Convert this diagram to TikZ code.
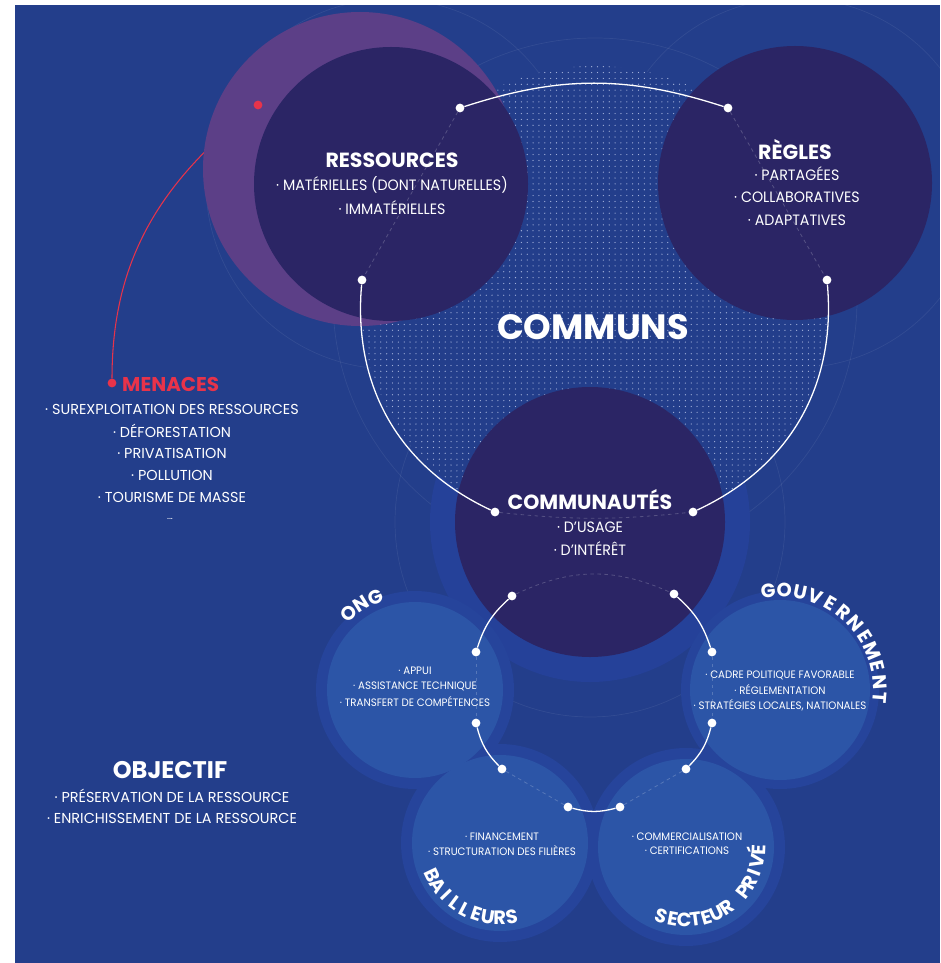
\documentclass[tikz,border=0pt]{standalone}
\usepackage{fontspec}
\setmainfont{Poppins}
\newfontfamily\narrowfont[FakeStretch=0.95]{Poppins}
\usepackage{xcolor}
\usepackage{tikz}
\usetikzlibrary{positioning, calc, patterns.meta}
\definecolor{CommBg}{HTML}{233E8B}
\definecolor{DiscDark}{HTML}{2B2565}
\definecolor{DiscPurple}{HTML}{5C3F87}
\definecolor{DiscLight}{HTML}{2C55A7}
\definecolor{HaloBig}{HTML}{254199}
\definecolor{HaloSmall}{HTML}{26449B}
\definecolor{ThreatRed}{HTML}{E8334A}
\definecolor{DotWhite}{HTML}{A3B1DA}

\tikzset{
  disc title/.style={text=white, font=\bfseries\fontsize{17.5}{20}\selectfont, inner sep=0pt},
  disc item/.style={text=white, font=\narrowfont\fontsize{12.8}{15}\selectfont, inner sep=0pt},
  group item/.style={text=white, font=\narrowfont\fontsize{9.2}{11}\selectfont, inner sep=0pt},
  group letter/.style={text=white, font=\bfseries\fontsize{16.5}{18}\selectfont,
    inner sep=0pt, text height=11.5pt, text depth=0pt},
  side title/.style={font=\bfseries\fontsize{17}{20}\selectfont, inner sep=0pt},
  side item/.style={text=white, font=\fontsize{12.3}{14}\selectfont, inner sep=0pt},
  pin dot/.style={circle, fill=white, inner sep=0pt, minimum size=7.5pt},
  threat dot/.style={circle, fill=ThreatRed, inner sep=0pt, minimum size=7.5pt},
  link/.style={white, line width=1.1pt},
  ghost link/.style={white, opacity=0.2, dashed, line width=0.7pt},
  guide/.style={white, opacity=0.07, line width=0.6pt},
}

\begin{document}
\begin{tikzpicture}[x=0.03cm, y=0.03cm]

  %% Frame
  \useasboundingbox (0,0) rectangle (940,-963);
  \fill[white] (0,0) rectangle (940,-963);
  \fill[CommBg] (15,-5) rectangle (940,-963);

  %% Disc centres
  \coordinate (purC) at (360,-169);
  \coordinate (resC) at (391,-184);
  \coordinate (regC) at (795,-183);
  \coordinate (comC) at (590,-522);
  \coordinate (bigC) at (595,-300);
  \coordinate (ongC) at (415,-690);
  \coordinate (gouC) at (780,-690);
  \coordinate (baiC) at (500,-843);
  \coordinate (secC) at (686,-847);

  %% Faint guide circles
  \foreach \c/\r in {resC/185, regC/185, comC/195, bigC/262}{
    \draw[guide] (\c) circle[radius=\r];
  }

  %% Halos
  \fill[HaloBig] (comC) circle[radius=160];
  \foreach \c in {ongC, gouC, baiC, secC}{
    \fill[HaloSmall] (\c) circle[radius=99];
  }

  %% Dotted commons area
  \fill[CommBg] (bigC) circle[radius=234];
  \fill[pattern={Dots[distance=5pt, radius=0.55pt]}, pattern color=DotWhite]
    (bigC) circle[radius=234];

  %% Threat line (runs under the purple disc)
  \node[threat dot] (menPin) at (112,-383) {};
  \coordinate (threatPin) at (258,-105);
  \draw[ThreatRed, line width=0.9pt] (menPin) to[out=90, in=218] (threatPin);

  %% Discs
  \fill[DiscPurple] (purC) circle[radius=157];
  \fill[DiscDark] (resC) circle[radius=137];
  \fill[DiscDark] (regC) circle[radius=137];
  \fill[DiscDark] (comC) circle[radius=135];
  \foreach \c/\r in {ongC/88, gouC/90, baiC/88, secC/88}{
    \fill[DiscLight] (\c) circle[radius=\r];
  }

  \node[threat dot] (threatDot) at (threatPin) {};

  %% Pins
  \foreach \n/\x/\y in {
    pinRes1/460/108, pinRes2/362/280, pinReg1/728/108, pinReg2/827/280,
    pinCom1/495/512, pinCom2/693/512, pinCom3/512/596, pinCom4/674/594,
    pinOng1/476/652, pinOng2/476/723, pinGou1/712/652, pinGou2/712/723,
    pinBai1/502/769, pinBai2/568/807, pinSec1/686/769, pinSec2/620/807
  }{
    \node[pin dot] (\n) at (\x,-\y) {};
  }

  %% Ghost links inside the discs
  \draw[ghost link] (pinRes1) -- (pinRes2);
  \draw[ghost link] (pinReg1) -- (pinReg2);
  \draw[ghost link] (pinCom1) to[bend right=6] (pinCom2);
  \draw[ghost link] (pinCom3) to[bend left=25] (pinCom4);
  \draw[ghost link] (pinOng1) -- (pinOng2);
  \draw[ghost link] (pinGou1) -- (pinGou2);
  \draw[ghost link] (pinBai1) -- (pinBai2);
  \draw[ghost link] (pinSec1) -- (pinSec2);

  %% Links
  \draw[link] (pinRes1) to[bend left=18] (pinReg1);
  \draw[link] (pinRes2) to[out=265, in=155] (pinCom1);
  \draw[link] (pinReg2) to[out=275, in=25] (pinCom2);
  \draw[link] (pinCom3) to[bend right=15] (pinOng1);
  \draw[link] (pinCom4) to[bend left=15] (pinGou1);
  \draw[link] (pinOng2) to[bend right=15] (pinBai1);
  \draw[link] (pinGou2) to[bend left=15] (pinSec1);
  \draw[link] (pinBai2) to[bend right=15] (pinSec2);

  %% Main texts
  \node[text=white, font=\bfseries\fontsize{30}{34}\selectfont, inner sep=0pt]
    (communs) at (593,-327) {COMMUNS};

  \node[disc title] (resTitle) at (392,-160) {RESSOURCES};
  \foreach \lbl [count=\i] in {{· MATÉRIELLES (DONT NATURELLES)}, · IMMATÉRIELLES}{
    \node[disc item] (resItem\i) at (392,{-162-23*\i}) {\lbl};
  }

  \node[disc title] (regTitle) at (795,-150) {RÈGLES};
  \foreach \lbl [count=\i] in {· PARTAGÉES, · COLLABORATIVES, · ADAPTATIVES}{
    \node[disc item] (regItem\i) at (797,{-150-23.5*\i}) {\lbl};
  }

  \node[disc title] (comTitle) at (590,-500) {COMMUNAUTÉS};
  \foreach \lbl [count=\i] in {· D’USAGE, · D’INTÉRÊT}{
    \node[disc item] (comItem\i) at (590,{-505-22*\i}) {\lbl};
  }

  %% Group discs
  \foreach \lbl [count=\i] in {· APPUI, · ASSISTANCE TECHNIQUE, · TRANSFERT DE COMPÉTENCES}{
    \node[group item] (ongItem\i) at (415,{-655-15.5*\i}) {\lbl};
  }
  \foreach \lbl [count=\i] in {· CADRE POLITIQUE FAVORABLE, · RÉGLEMENTATION,
      {· STRATÉGIES LOCALES, NATIONALES}}{
    \node[group item] (gouItem\i) at (780,{-660-15*\i}) {\lbl};
  }
  \foreach \lbl [count=\i] in {· FINANCEMENT, · STRUCTURATION DES FILIÈRES}{
    \node[group item] (baiItem\i) at (502,{-822-14.5*\i}) {\lbl};
  }
  \foreach \lbl [count=\i] in {· COMMERCIALISATION, · CERTIFICATIONS}{
    \node[group item] (secItem\i) at (687,{-822-14.5*\i}) {\lbl};
  }

  %% Curved group names, one letter at a time
  \foreach \ch [count=\i] in {O,N,G}{
    \pgfmathsetmacro\ang{131-9*(\i-1)}
    \node[group letter, rotate=\ang-90] (ongL\i) at ($(ongC)+(\ang:101)$) {\ch};
  }
  \foreach \ch [count=\i] in {G,O,U,V,E,R,N,E,M,E,N,T}{
    \pgfmathsetmacro\ang{96.8-9.22*(\i-1)}
    \node[group letter, rotate=\ang-90] (gouL\i) at ($(gouC)+(\ang:100)$) {\ch};
  }
  \foreach \ch [count=\i] in {B,A,I,L,L,E,U,R,S}{
    \pgfmathsetmacro\ang{205.5+9.19*(\i-1)}
    \node[group letter, rotate=\ang+90] (baiL\i) at ($(baiC)+(\ang:75)$) {\ch};
  }
  \foreach \ch [count=\i] in {S,E,C,T,E,U,R,{},P,R,I,V,É}{
    \pgfmathsetmacro\ang{250.6+8.93*(\i-1)}
    \node[group letter, rotate=\ang+90] (secL\i) at ($(secC)+(\ang:73)$) {\ch};
  }

  %% Threats
  \node[side title, text=ThreatRed, anchor=west] (menTitle) at (122,-384) {MENACES};
  \foreach \lbl [count=\i] in {· SUREXPLOITATION DES RESSOURCES, · DÉFORESTATION,
      · PRIVATISATION, · POLLUTION, · TOURISME DE MASSE}{
    \node[side item] (menItem\i) at (172,{-387-22*\i}) {\lbl};
  }
  \node[side item, font=\fontsize{8}{9}\selectfont] (menMore) at (170,-519) {...};

  %% Objective
  \node[side title, text=white, font=\bfseries\fontsize{20.5}{23}\selectfont] (objTitle) at (170,-770) {OBJECTIF};
  \foreach \lbl [count=\i] in {· PRÉSERVATION DE LA RESSOURCE, · ENRICHISSEMENT DE LA RESSOURCE}{
    \node[side item] (objItem\i) at (172,{-774-22*\i}) {\lbl};
  }

\end{tikzpicture}
\end{document}
